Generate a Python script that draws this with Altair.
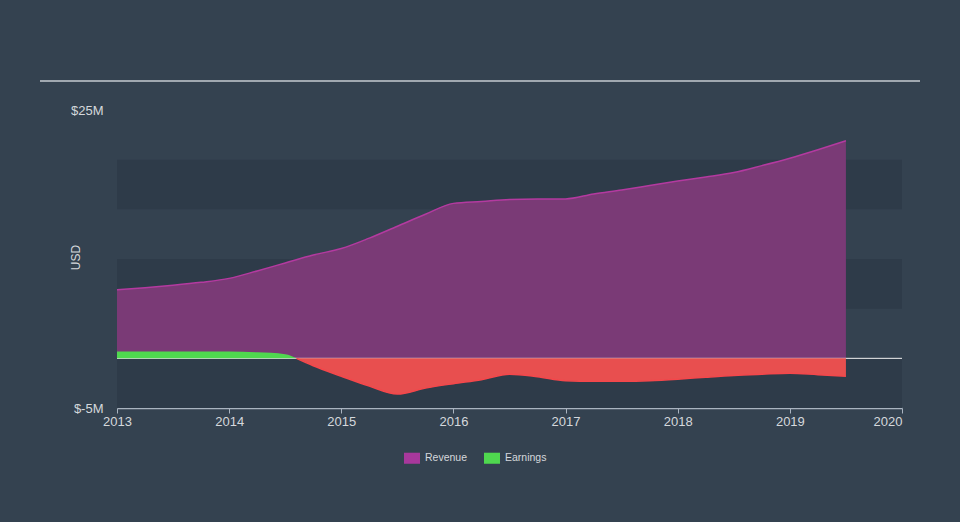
import altair as alt
import pandas as pd

# ---- data ----
rev_years = [2013.0, 2013.25, 2013.5, 2013.75, 2014.0, 2014.25, 2014.5, 2014.75,
             2015.0, 2015.25, 2015.5, 2015.75, 2016.0, 2016.25, 2016.5, 2016.75,
             2017.0, 2017.25, 2017.5, 2017.75, 2018.0, 2018.25, 2018.5, 2018.75,
             2019.0, 2019.25, 2019.5]
revenue = [6.9, 7.1, 7.35, 7.65, 8.05, 8.8, 9.6, 10.4,
           11.05, 12.1, 13.3, 14.5, 15.6, 15.8, 16.0, 16.05,
           16.05, 16.55, 16.95, 17.4, 17.85, 18.25, 18.7, 19.4,
           20.15, 21.0, 21.9]

earn_years = [2013.0, 2013.25, 2013.5, 2013.75, 2014.0, 2014.25, 2014.5, 2014.6, 2014.75,
              2015.0, 2015.25, 2015.5, 2015.75, 2016.0, 2016.25, 2016.5, 2016.75,
              2017.0, 2017.25, 2017.5, 2017.75, 2018.0, 2018.25, 2018.5, 2018.75,
              2019.0, 2019.25, 2019.5]
earnings = [0.7, 0.7, 0.7, 0.7, 0.7, 0.6, 0.42, 0.0, -0.75,
            -1.8, -2.8, -3.6, -3.0, -2.55, -2.15, -1.6, -1.85,
            -2.25, -2.3, -2.3, -2.25, -2.1, -1.9, -1.72, -1.6,
            -1.5, -1.65, -1.8]

x_ticks = [2013, 2014, 2015, 2016, 2017, 2018, 2019, 2020]
y_ticks = [-5, 25]
band_lo = [15, 5, -5]
band_hi = [20, 10, 0]
series_names = ["Revenue", "Earnings"]

# ---- styling ----
BG = "#344250"
BAND = "#2e3b49"
REV_FILL = "#7a3a76"
REV_LINE = "#b43aa0"
REV_SWATCH = "#a8389c"
GREEN = "#4fd84f"
RED = "#e84f4f"
RED_LINE = "#f4474b"
TXT = "#d4d8dc"
AXIS = "#aab4c0"
FONT = "Liberation Sans"

rev_df = pd.DataFrame({"year": rev_years, "value": revenue, "series": "Revenue"})
earn_df = pd.DataFrame({"year": earn_years, "value": earnings})
pos_df = earn_df[earn_df["year"] <= 2014.6].copy()
pos_df["value"] = pos_df["value"].clip(lower=0)
pos_df["series"] = "Earnings"
neg_df = earn_df[earn_df["year"] >= 2014.6].copy()
neg_df["value"] = neg_df["value"].clip(upper=0)
band_df = pd.DataFrame({"lo": band_lo, "hi": band_hi})
zero_df = pd.DataFrame({"y": [0]})

x_scale = alt.Scale(domain=[2013, 2020], nice=False, zero=False)
y_scale = alt.Scale(domain=[-5, 25], nice=False, zero=False)

x_axis = alt.Axis(
    values=x_ticks, format="d", title=None, grid=False,
    domainColor=AXIS, tickColor=AXIS, tickSize=5, domainWidth=1.5,
    labelColor=TXT, labelFont=FONT, labelFontSize=13, labelPadding=2,
    labelAlign={"condition": {"test": "datum.value == 2020", "value": "right"}, "value": "center"},
)
y_axis = alt.Axis(
    values=y_ticks, labelExpr="'$' + datum.value + 'M'", grid=False,
    domain=False, ticks=False, labelPadding=14,
    labelColor=TXT, labelFont=FONT, labelFontSize=13, labelBaseline="middle",
    title="USD", titleColor=TXT, titleFont=FONT, titleFontSize=12, titleFontWeight="normal",
    titleAngle=270, titleX=-42, titleY=147, titleAlign="center", titleBaseline="middle",
)

bands = alt.Chart(band_df).mark_rect(color=BAND).encode(
    x=alt.datum(2013, scale=x_scale, axis=x_axis),
    x2=alt.datum(2020),
    y=alt.Y("lo:Q", scale=y_scale, axis=y_axis),
    y2="hi:Q",
)

rev_area = alt.Chart(rev_df).mark_area(
    color=REV_FILL, interpolate="monotone", opacity=1, fillOpacity=1,
    line={"color": REV_LINE, "strokeWidth": 1.5},
).encode(
    x=alt.X("year:Q", scale=x_scale),
    y=alt.Y("value:Q", scale=y_scale),
)

zero_rule = alt.Chart(zero_df).mark_rule(color="#f2f2f2", strokeWidth=1).encode(
    y=alt.Y("y:Q", scale=y_scale),
    x=alt.datum(2013, scale=x_scale),
    x2=alt.datum(2020),
)

pos_area = alt.Chart(pos_df).mark_area(interpolate="monotone", opacity=1, fillOpacity=1).encode(
    x=alt.X("year:Q", scale=x_scale),
    y=alt.Y("value:Q", scale=y_scale),
    color=alt.Color(
        "series:N",
        scale=alt.Scale(domain=series_names, range=[REV_SWATCH, GREEN]),
        legend=alt.Legend(
            orient="none", legendX=287, legendY=340, direction="horizontal",
            title=None, symbolType="M-1,-0.69L1,-0.69L1,0.69L-1,0.69Z", symbolSize=256,
            symbolStrokeWidth=0, symbolOpacity=1, labelColor=TXT, labelFont=FONT, labelFontSize=10.5,
            labelOffset=5, columnPadding=16, padding=0,
        ),
    ),
)

neg_area = alt.Chart(neg_df).mark_area(
    color=RED, interpolate="monotone", opacity=1, fillOpacity=1,
    line={"color": RED_LINE, "strokeWidth": 1.5},
).encode(
    x=alt.X("year:Q", scale=x_scale),
    y=alt.Y("value:Q", scale=y_scale),
)

top_line = alt.Chart(zero_df).mark_rule(color="#c5cbd1", strokeWidth=1.5).encode(
    x=alt.value(-77), x2=alt.value(803), y=alt.value(-29),
)

chart = alt.layer(bands, rev_area, zero_rule, pos_area, neg_area, top_line).properties(
    width=785, height=298,
    padding={"left": 117, "top": 110, "right": 58, "bottom": 114},
    autosize="none",
    background=BG,
).configure_view(stroke=None)

chart.save("out.html", embed_options={"renderer": "svg", "actions": False})
